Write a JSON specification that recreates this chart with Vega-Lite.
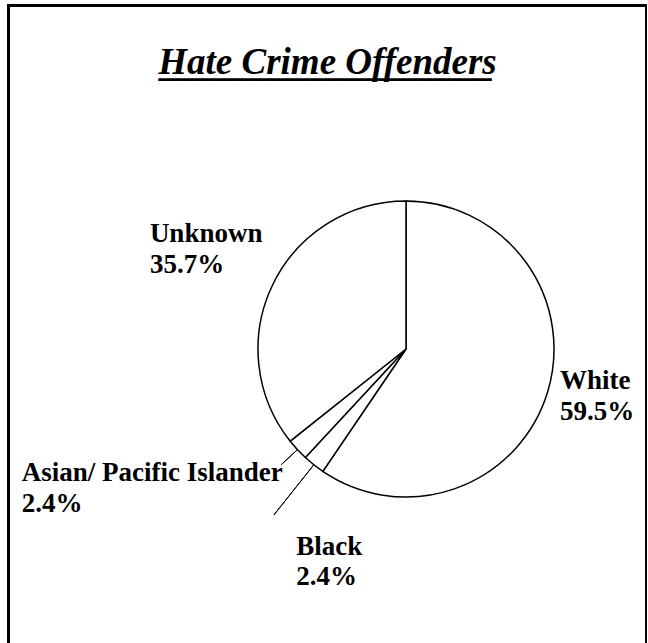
{
  "$schema": "https://vega.github.io/schema/vega-lite/v6.json",
  "width": 638,
  "height": 640,
  "autosize": "none",
  "padding": {"left": 8.5, "top": 5.5, "right": 0, "bottom": 0},
  "background": "white",
  "view": {"stroke": "black", "strokeWidth": 3, "fill": "white"},
  "config": {"view": {"stroke": "black", "strokeWidth": 3}},
  "title": {
    "text": ["Hate Crime Offenders", "__________________"],
    "font": "Liberation Serif",
    "fontSize": 37,
    "fontStyle": "italic",
    "fontWeight": "bold",
    "color": "black",
    "lineHeight": 2,
    "anchor": "middle",
    "baseline": "alphabetic",
    "offset": -107
  },
  "data": {
    "values": [
      {"cat": "White", "value": 59.5, "k": 1},
      {"cat": "Black", "value": 2.4, "k": 2},
      {"cat": "Asian/ Pacific Islander", "value": 2.4, "k": 3},
      {"cat": "Unknown", "value": 35.7, "k": 4}
    ]
  },
  "transform": [
    {"window": [{"op": "sum", "field": "value", "as": "cum"}], "sort": [{"field": "k"}], "frame": [null, 0]},
    {"calculate": "datum.cum - datum.value/2", "as": "mid"},
    {"calculate": "[datum.cat, format(datum.value, '.1f') + '%']", "as": "label"}
  ],
  "layer": [
    {
      "mark": {"type": "arc", "radius": 148, "fill": "white", "stroke": "black", "strokeWidth": 1.5,
               "x": {"expr": "width/2 + 78.5"}, "y": {"expr": "height/2 + 23.5"}},
      "encoding": {
        "theta": {"field": "value", "type": "quantitative", "stack": true, "scale": {"domain": [0, 100]}},
        "order": {"field": "k", "type": "quantitative"}
      }
    },
    {
      "transform": [{"filter": "datum.k == 2"}],
      "mark": {"type": "arc", "radius": 212, "radius2": 148, "stroke": "black", "strokeWidth": 1, "fill": null,
               "x": {"expr": "width/2 + 78.5"}, "y": {"expr": "height/2 + 23.5"}},
      "encoding": {
        "theta": {"field": "mid", "type": "quantitative", "stack": null},
        "theta2": {"field": "mid"}
      }
    },
    {
      "transform": [{"filter": "datum.k == 3"}],
      "mark": {"type": "arc", "radius": 170, "radius2": 148, "stroke": "black", "strokeWidth": 1, "fill": null,
               "x": {"expr": "width/2 + 78.5"}, "y": {"expr": "height/2 + 23.5"}},
      "encoding": {
        "theta": {"field": "mid", "type": "quantitative", "stack": null},
        "theta2": {"field": "mid"}
      }
    },
    {
      "transform": [{"filter": "datum.k == 1"}],
      "mark": {"type": "text", "radius": 160, "dx": 1, "dy": -7, "align": "left", "baseline": "alphabetic",
               "font": "Liberation Serif", "fontSize": 27, "fontWeight": "bold", "lineHeight": 31, "color": "black",
               "x": {"expr": "width/2 + 78.5"}, "y": {"expr": "height/2 + 23.5"}},
      "encoding": {
        "theta": {"field": "mid", "type": "quantitative", "stack": null},
        "text": {"field": "label"}
      }
    },
    {
      "transform": [{"filter": "datum.k == 2"}],
      "mark": {"type": "text", "radius": 160, "dx": -10, "dy": 81, "align": "left", "baseline": "alphabetic",
               "font": "Liberation Serif", "fontSize": 27, "fontWeight": "bold", "lineHeight": 30, "color": "black",
               "x": {"expr": "width/2 + 78.5"}, "y": {"expr": "height/2 + 23.5"}},
      "encoding": {
        "theta": {"field": "mid", "type": "quantitative", "stack": null},
        "text": {"field": "label"}
      }
    },
    {
      "transform": [{"filter": "datum.k == 3"}],
      "mark": {"type": "text", "radius": 160, "dx": -267, "dy": 23, "align": "left", "baseline": "alphabetic",
               "font": "Liberation Serif", "fontSize": 27, "fontWeight": "bold", "lineHeight": 31, "color": "black",
               "x": {"expr": "width/2 + 78.5"}, "y": {"expr": "height/2 + 23.5"}},
      "encoding": {
        "theta": {"field": "mid", "type": "quantitative", "stack": null},
        "text": {"field": "label"}
      }
    },
    {
      "transform": [{"filter": "datum.k == 4"}],
      "mark": {"type": "text", "radius": 160, "dx": -112, "dy": -38, "align": "left", "baseline": "alphabetic",
               "font": "Liberation Serif", "fontSize": 27, "fontWeight": "bold", "lineHeight": 31, "color": "black",
               "x": {"expr": "width/2 + 78.5"}, "y": {"expr": "height/2 + 23.5"}},
      "encoding": {
        "theta": {"field": "mid", "type": "quantitative", "stack": null},
        "text": {"field": "label"}
      }
    }
  ]
}
